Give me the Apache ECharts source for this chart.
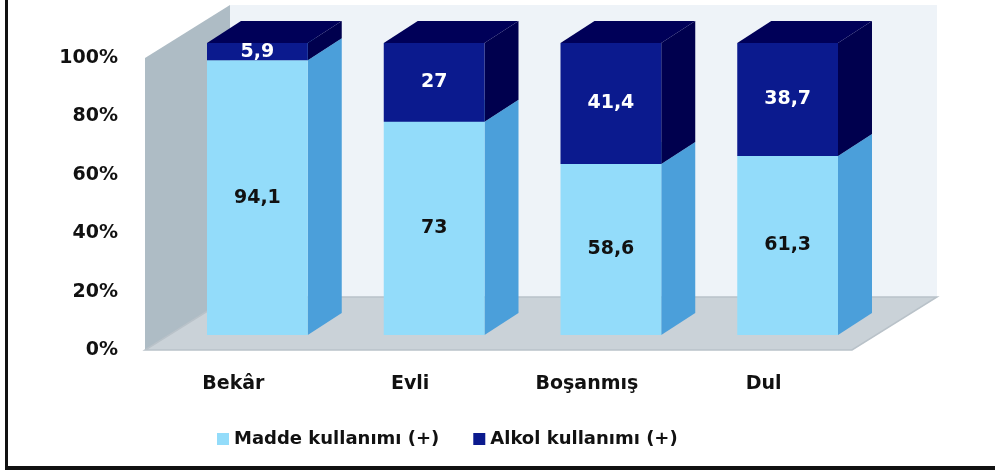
<!DOCTYPE html>
<html><head><meta charset="utf-8">
<script src="https://cdn.jsdelivr.net/npm/echarts@6/dist/echarts.min.js"></script>
<style>html,body{margin:0;padding:0;background:#fff}#c{width:995px;height:471px}</style>
</head><body><div id="c"></div>
<script>
const categories = ['Bekâr', 'Evli', 'Boşanmış', 'Dul'];
const madde = [94.1, 73, 58.6, 61.3];
const alkol = [5.9, 27, 41.4, 38.7];
const yTicks = [0, 20, 40, 60, 80, 100];
const seriesNames = ['Madde kullanımı (+)', 'Alkol kullanımı (+)'];

const FONT = 'DejaVu Sans';
const DX = 85, DY = -53;           // wall depth
const FX = 24, FY = -15;           // bar front-face offset into depth
const BX = 34, BY = -22;           // bar depth
const BAR_RATIO = 0.57;

const colors = {
  light: {front: '#93dcfa', side: '#4b9fda', top: '#7fcdf0'},
  dark: {front: '#0b1a8e', side: '#00004e', top: '#000058'}
};

function fmt(v){ return String(v).replace('.', ','); }

function stackData(vals, base){
  return vals.map((v, i) => [i, base ? base[i] : 0, (base ? base[i] : 0) + v, v]);
}

function makeBarRender(c, textColor){
  return function(params, api){
    const cat = api.value(0);
    const p0 = api.coord([cat, api.value(1)]);
    const p1 = api.coord([cat, api.value(2)]);
    const bw = api.size([1, 0])[0] * BAR_RATIO;
    const x0 = p0[0] - bw / 2 + FX, x1 = x0 + bw;
    const yb = p0[1] + FY, yt = p1[1] + FY;
    const front = [[x0, yb], [x1, yb], [x1, yt], [x0, yt]];
    const side = [[x1, yb], [x1 + BX, yb + BY], [x1 + BX, yt + BY], [x1, yt]];
    const top = [[x0, yt], [x1, yt], [x1 + BX, yt + BY], [x0 + BX, yt + BY]];
    return {
      type: 'group',
      children: [
        {type: 'polygon', shape: {points: side}, style: {fill: c.side}},
        {type: 'polygon', shape: {points: top}, style: {fill: c.top}},
        {type: 'polygon', shape: {points: front}, style: {fill: c.front}},
        {type: 'text', x: (x0 + x1) / 2, y: (yb + yt) / 2,
          style: {text: fmt(api.value(3)), fill: textColor, font: 'bold 19px "' + FONT + '"',
            align: 'center', verticalAlign: 'middle'}}
      ]
    };
  };
}

function renderWalls(params, api){
  const cs = params.coordSys;
  const x = cs.x, y = cs.y, w = cs.width, h = cs.height;
  return {
    type: 'group',
    children: [
      {type: 'polygon', shape: {points: [[x + DX, y + DY], [x + w + DX, y + DY], [x + w + DX, y + h + DY], [x + DX, y + h + DY]]},
        style: {fill: '#eef3f8'}},
      {type: 'polygon', shape: {points: [[x, y], [x + DX, y + DY], [x + DX, y + h + DY], [x, y + h]]},
        style: {fill: '#aebcc5'}},
      {type: 'polygon', shape: {points: [[x, y + h], [x + w, y + h], [x + w + DX, y + h + DY], [x + DX, y + h + DY]]},
        style: {fill: '#cad2d8', stroke: '#b9c2c9', lineWidth: 1.5}}
    ]
  };
}

const chart = echarts.init(document.getElementById('c'));
chart.setOption({
  animation: false,
  backgroundColor: '#fff',
  grid: {left: 145, right: 143, top: 58, bottom: 121},
  xAxis: {
    type: 'category', data: categories,
    axisLine: {show: false}, axisTick: {show: false},
    axisLabel: {margin: 25, color: '#111', fontFamily: FONT, fontWeight: 'bold', fontSize: 19}
  },
  yAxis: {
    type: 'value', min: yTicks[0], max: yTicks[yTicks.length - 1], interval: 20,
    axisLine: {show: false}, axisTick: {show: false}, splitLine: {show: false},
    axisLabel: {margin: 27, padding: [7, 0, 0, 0], formatter: '{value}%', color: '#111', fontFamily: FONT, fontWeight: 'bold', fontSize: 19}
  },
  legend: {
    top: 425, left: 212, itemWidth: 12, itemHeight: 12, itemGap: 34, icon: 'rect',
    data: seriesNames,
    textStyle: {color: '#111', fontFamily: FONT, fontWeight: 'bold', fontSize: 18}
  },
  graphic: [
    {type: 'rect', shape: {x: 5, y: 0, width: 3, height: 470}, style: {fill: '#111'}, z: 100},
    {type: 'rect', shape: {x: 5, y: 466, width: 990, height: 4}, style: {fill: '#111'}, z: 100}
  ],
  series: [
    {type: 'custom', name: '_walls', renderItem: renderWalls, data: [[0]], silent: true, z: 1},
    {type: 'custom', name: seriesNames[0], renderItem: makeBarRender(colors.light, '#111'),
      itemStyle: {color: colors.light.front}, data: stackData(madde), encode: {x: 0, y: [1, 2]}, z: 2},
    {type: 'custom', name: seriesNames[1], renderItem: makeBarRender(colors.dark, '#fff'),
      itemStyle: {color: colors.dark.front}, data: stackData(alkol, madde), encode: {x: 0, y: [1, 2]}, z: 3}
  ]
});
</script></body></html>
